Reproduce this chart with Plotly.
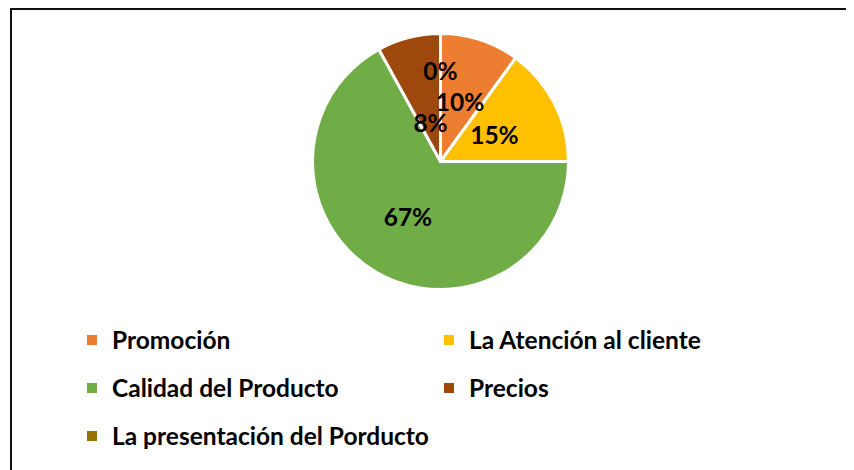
import plotly.graph_objects as go

categories = ["Promoción", "La Atención al cliente", "Calidad del Producto", "Precios",
              "La presentación del Porducto"]
values = [10, 15, 67, 8, 0]
colors = ["#ED7D31", "#FFC000", "#70AD47", "#9E480E", "#997300"]
legend_rows = ["legend", "legend", "legend2", "legend2", "legend3"]

W, H = 854, 470
FONT = "Lato"
FS = 24.5
CX, CY = 432.5, 153.5   # pie centre in figure pixels
R_PIE = 128
# radius of the (invisible) pie on which each slice's percentage label is laid out
label_radius = [83, 88, R_PIE, 50, 91]


def dom(r):
    return dict(x=[(CX - r) / W, (CX + r) / W], y=[1 - (CY + r) / H, 1 - (CY - r) / H])


fig = go.Figure()
radii = [R_PIE] + sorted({r for r in label_radius if r != R_PIE}, reverse=True)
for r in radii:
    tmpl = ["%{percent:.0%}" if lr == r else "" for lr in label_radius]
    if r == R_PIE:
        marker = dict(colors=colors, line=dict(color="white", width=3))
    else:
        marker = dict(colors=["rgba(0,0,0,0)"] * len(values), line=dict(width=0))
    fig.add_trace(go.Pie(
        labels=categories, values=values, sort=False, direction="clockwise", rotation=0,
        marker=marker, texttemplate=tmpl, textposition="inside",
        insidetextorientation="horizontal",
        textfont=dict(family=FONT, size=FS, color="black", weight="bold"),
        domain=dom(r), showlegend=False, hoverinfo="skip",
    ))

for name, col, lg in zip(categories, colors, legend_rows):
    fig.add_trace(go.Scatter(
        x=[None], y=[None], mode="markers", name=name, legend=lg,
        marker=dict(symbol="square", size=10, color=col),
        hoverinfo="skip",
    ))

row_y = [332, 380, 428]
leg_common = dict(orientation="h", xref="paper", yref="paper", x=64 / W,
                  xanchor="left", yanchor="middle", entrywidth=312, entrywidthmode="pixels",
                  font=dict(family=FONT, size=FS, color="black", weight="bold"),
                  bgcolor="rgba(0,0,0,0)", itemclick=False, itemdoubleclick=False)
fig.update_layout(
    width=W, height=H, paper_bgcolor="white", plot_bgcolor="white",
    margin=dict(l=0, r=0, t=0, b=0, autoexpand=False),
    xaxis=dict(visible=False), yaxis=dict(visible=False),
    legend=dict(**leg_common, y=1 - row_y[0] / H),
    legend2=dict(**leg_common, y=1 - row_y[1] / H),
    legend3=dict(**leg_common, y=1 - row_y[2] / H),
    uniformtext=dict(minsize=FS, mode="show"),
    shapes=[dict(type="rect", xref="paper", yref="paper", x0=3 / W, x1=1.02,
                 y0=-0.05, y1=1 - 1 / H, line=dict(color="#111111", width=2))],
)

fig.write_html("out.html", config={"displayModeBar": False})
